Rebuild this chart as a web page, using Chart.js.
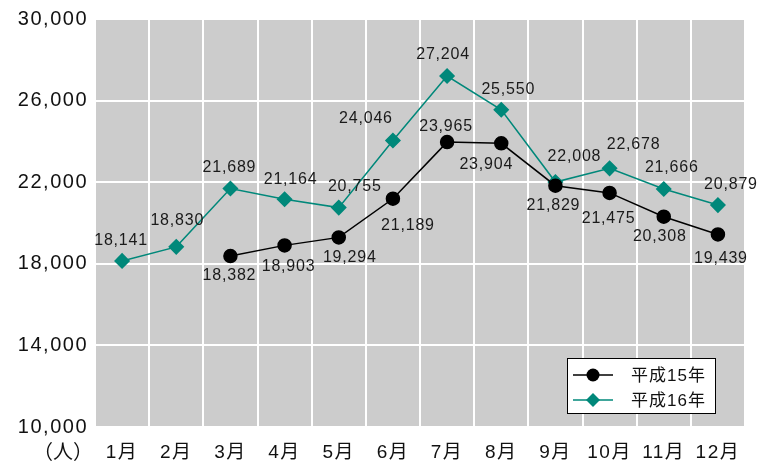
<!DOCTYPE html>
<html>
<head>
<meta charset="utf-8">
<script src="https://cdn.jsdelivr.net/npm/chart.js@4/dist/chart.umd.min.js"></script>
<style>
  html, body { margin: 0; padding: 0; background: #fff; }
  #wrap { width: 774px; height: 463px; }
</style>
</head>
<body>
<div id="wrap"><canvas id="lineChart"></canvas></div>
<script>
/************************
 *      Resource
 ************************/
const MONTHS = ['1月', '2月', '3月', '4月', '5月', '6月', '7月', '8月', '9月', '10月', '11月', '12月']
const H15_VALUES = [null, null, 18382, 18903, 19294, 21189, 23965, 23904, 21829, 21475, 20308, 19439]
const H16_VALUES = [18141, 18830, 21689, 21164, 20755, 24046, 27204, 25550, 22008, 22678, 21666, 20879]
const SERIES_NAMES = ['平成15年', '平成16年']
const Y_TICKS = [10000, 14000, 18000, 22000, 26000, 30000]
const UNIT_LABEL = '（人）'

const TEAL = '#00887a'
const FONT = "'Liberation Sans', Arial, 'Noto Sans CJK JP', sans-serif"
const CJK_FONT = "'Noto Sans CJK JP', sans-serif"

// where each value label sits relative to its point (dx, dy)
const H15_LABEL_POS = [null, null, [-1, 20], [4, 21], [11, 20], [15, 27], [-1, -16], [-15, 21], [-2, 20], [-1, 26], [-4, 20], [3, 24]]
const H16_LABEL_POS = [[-1, -20], [1, -26], [-1, -21], [6, -20], [16, -21], [-27, -22], [-4, -21], [7, -20], [19, -25], [24, -24], [8, -21], [13, -20]]

/************************
 *      Plugins
 ************************/
const plotBackground = {
    id: 'plotBackground',
    beforeDraw: (chart) => {
        const { ctx, chartArea } = chart
        ctx.letterSpacing = '1.5px'
        ctx.save()
        ctx.fillStyle = '#cccccc'
        ctx.fillRect(chartArea.left, chartArea.top, chartArea.right - chartArea.left, chartArea.bottom - chartArea.top)
        ctx.restore()
    }
}

const valueLabels = {
    id: 'valueLabels',
    afterDatasetsDraw: (chart) => {
        const ctx = chart.ctx
        const posList = [H15_LABEL_POS, H16_LABEL_POS]
        ctx.save()
        ctx.letterSpacing = '0.8px'
        ctx.font = '16px ' + FONT
        ctx.fillStyle = '#1a1a1a'
        ctx.textAlign = 'center'
        ctx.textBaseline = 'middle'
        chart.data.datasets.forEach((ds, i) => {
            const meta = chart.getDatasetMeta(i)
            meta.data.forEach((pt, j) => {
                const v = ds.data[j]
                if (v == null) return
                const off = posList[i][j]
                ctx.fillText(v.toLocaleString('en-US'), pt.x + off[0], pt.y + off[1])
            })
        })
        ctx.restore()
    }
}

const boxLegend = {
    id: 'boxLegend',
    afterDraw: (chart) => {
        const ctx = chart.ctx
        const area = chart.chartArea
        const x = area.right - 178, y = area.bottom - 69
        ctx.save()
        ctx.fillStyle = '#ffffff'
        ctx.fillRect(x, y, 148, 55)
        ctx.strokeStyle = '#000'
        ctx.lineWidth = 1
        ctx.strokeRect(x + 0.5, y + 0.5, 148, 55)

        chart.data.datasets.forEach((ds, i) => {
            const cy = y + 17 + i * 25
            ctx.strokeStyle = ds.borderColor
            ctx.lineWidth = 1.5
            ctx.beginPath()
            ctx.moveTo(x + 6, cy)
            ctx.lineTo(x + 46, cy)
            ctx.stroke()
            ctx.fillStyle = ds.pointBackgroundColor
            ctx.beginPath()
            if (ds.pointStyle === 'circle') {
                ctx.arc(x + 26, cy, ds.pointRadius, 0, Math.PI * 2)
            } else {
                const r = ds.pointRadius
                ctx.moveTo(x + 26 - r, cy); ctx.lineTo(x + 26, cy - r)
                ctx.lineTo(x + 26 + r, cy); ctx.lineTo(x + 26, cy + r)
                ctx.closePath()
            }
            ctx.fill()

            ctx.fillStyle = '#111'
            ctx.font = '17px ' + FONT
            ctx.letterSpacing = '1px'
            ctx.textAlign = 'left'
            ctx.textBaseline = 'middle'
            ctx.fillText(ds.label, x + 64, cy + 1)
        })

        // unit label under the y axis, on the month row
        ctx.fillStyle = '#111'
        ctx.font = '20px ' + CJK_FONT
        ctx.letterSpacing = '0px'
        ctx.textAlign = 'right'
        ctx.textBaseline = 'alphabetic'
        ctx.fillText(UNIT_LABEL, area.left - 2, area.bottom + 32)
        ctx.restore()
    }
}

/************************
 *      Method
 ************************/
const createLineChart = () => {
    const data = {
        labels: MONTHS,
        datasets: [{
            label: SERIES_NAMES[0],
            data: H15_VALUES,
            borderColor: '#000000',
            backgroundColor: '#000000',
            pointBackgroundColor: '#000000',
            pointBorderColor: '#000000',
            pointStyle: 'circle',
            pointRadius: 6.5,
            borderWidth: 1.5,
            spanGaps: false
        }, {
            label: SERIES_NAMES[1],
            data: H16_VALUES,
            borderColor: TEAL,
            backgroundColor: TEAL,
            pointBackgroundColor: TEAL,
            pointBorderColor: TEAL,
            pointStyle: 'rectRot',
            pointRadius: 7,
            borderWidth: 1.5
        }]
    }

    new Chart('lineChart', {
        type: 'line',
        data: data,
        plugins: [plotBackground, valueLabels, boxLegend],
        options: {
            responsive: true,
            maintainAspectRatio: false,
            animation: false,
            layout: { padding: { top: 14, right: 29, left: 0, bottom: 0 } },
            plugins: {
                legend: { display: false },
                tooltip: { enabled: false }
            },
            elements: { line: { tension: 0 } },
            scales: {
                x: {
                    offset: true,
                    grid: { offset: true, color: '#ffffff', lineWidth: 2, drawTicks: false },
                    border: { display: false },
                    ticks: {
                        color: '#111',
                        font: { family: FONT, size: 19 },
                        padding: 14,
                        maxRotation: 0,
                        autoSkip: false
                    },
                    afterFit: (scale) => { scale.height = 36 }
                },
                y: {
                    min: Y_TICKS[0],
                    max: Y_TICKS[Y_TICKS.length - 1],
                    afterBuildTicks: (scale) => { scale.ticks = Y_TICKS.map(v => ({ value: v })) },
                    grid: { color: '#ffffff', lineWidth: 2, drawTicks: false },
                    border: { display: false },
                    ticks: {
                        color: '#111',
                        font: { family: FONT, size: 20 },
                        padding: 7,
                        callback: (v) => v.toLocaleString('en-US')
                    },
                    afterFit: (scale) => { scale.width = 95 }
                }
            }
        }
    })
}

createLineChart()
</script>
</body>
</html>
